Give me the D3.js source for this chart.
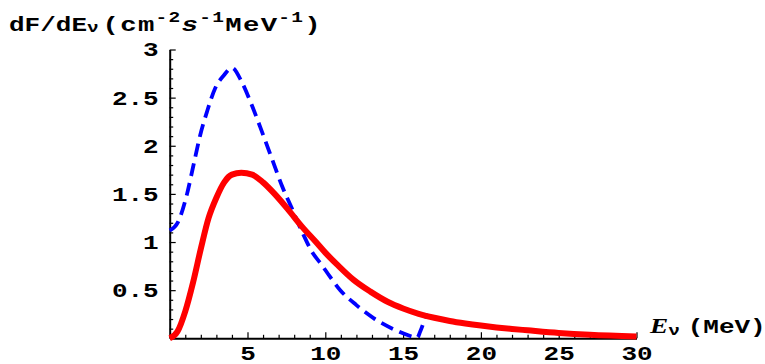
<!DOCTYPE html>
<html>
<head>
<meta charset="utf-8">
<script src="https://cdn.jsdelivr.net/npm/d3@7"></script>
<style>
  html, body { margin: 0; padding: 0; background: #fff; }
</style>
</head>
<body>
<div id="chart"></div>
<script>
// solid red spectrum
const redE = [0, 0.5, 1, 1.5, 2, 2.5, 3, 3.5, 4, 4.6, 5.3, 6, 6.8, 7.6, 8.5, 9.4, 10, 10.8, 11.8, 12.9, 14, 15, 16, 17, 18, 19, 20, 21, 22, 23, 25, 27, 30];
const redF = [0, 0.07, 0.28, 0.58, 0.93, 1.25, 1.46, 1.62, 1.70, 1.72, 1.70, 1.62, 1.49, 1.34, 1.16, 1.00, 0.89, 0.76, 0.61, 0.485, 0.38, 0.31, 0.255, 0.213, 0.18, 0.154, 0.132, 0.113, 0.097, 0.083, 0.056, 0.036, 0.018];

// dashed blue spectrum
const blueE = [0, 0.54, 1.1, 1.53, 1.96, 2.39, 2.93, 3.47, 4.0, 4.64, 5.28, 5.92, 6.56, 7.2, 7.85, 8.5, 9.14, 9.78, 10.3, 10.96, 12.0, 13.1, 14.4, 15.46, 15.9, 16.1, 16.5];
const blueF = [1.12, 1.21, 1.49, 1.80, 2.11, 2.35, 2.60, 2.73, 2.81, 2.66, 2.42, 2.15, 1.87, 1.59, 1.35, 1.11, 0.90, 0.76, 0.64, 0.50, 0.345, 0.21, 0.093, 0.024, 0.005, 0.07, 0.26];

const xMajor = [5, 10, 15, 20, 25, 30];
const xMinor = d3.range(1, 30).filter(v => v % 5 !== 0);
const yMajor = [0.5, 1, 1.5, 2, 2.5, 3];
const yMinor = d3.range(1, 30).map(v => v / 10).filter(v => Math.round(v * 10) % 5 !== 0);

const width = 765, height = 364;
const margin = { top: 49.5, right: 128.5, bottom: 25.7, left: 169.7 };
const mono = "'Liberation Mono', 'DejaVu Sans Mono', monospace";
const serif = "'Liberation Serif', 'DejaVu Serif', serif";
const sx = 1.3; // text in the picture is stretched sideways

const svg = d3.select('#chart').append('svg')
  .attr('width', width).attr('height', height);

const x = d3.scaleLinear().domain([0, 30]).range([margin.left, width - margin.right]);
const y = d3.scaleLinear().domain([0, 3]).range([height - margin.bottom, margin.top]);

// axes
const gx = svg.append('g').attr('transform', `translate(0,${y(0)})`)
  .call(d3.axisBottom(x).tickValues(xMajor).tickSize(-6).tickSizeOuter(0).tickPadding(8).tickFormat(d => d));
svg.append('g').attr('transform', `translate(0,${y(0)})`)
  .call(d3.axisBottom(x).tickValues(xMinor).tickSize(-3.5).tickFormat(''))
  .call(g => g.select('.domain').remove());

const gy = svg.append('g').attr('transform', `translate(${x(0)},0)`)
  .call(d3.axisLeft(y).tickValues(yMajor).tickSize(-6).tickSizeOuter(0).tickPadding(0).tickFormat(d => d));
svg.append('g').attr('transform', `translate(${x(0)},0)`)
  .call(d3.axisLeft(y).tickValues(yMinor).tickSize(-3.5).tickFormat(''))
  .call(g => g.select('.domain').remove());

svg.selectAll('.domain').attr('stroke', '#000').attr('stroke-width', 2);
svg.selectAll('.tick line').attr('stroke', '#000').attr('stroke-width', 1.2);
svg.selectAll('.tick text')
  .attr('font-family', mono).attr('font-weight', 'bold').attr('font-size', 20).attr('fill', '#000');
gx.selectAll('.tick text').attr('transform', `scale(${sx},1)`);
gy.selectAll('.tick text').attr('x', 0).attr('transform', `translate(-11,0) scale(${sx},1)`);

// curves
const line = d3.line().x(d => x(d[0])).y(d => y(d[1])).curve(d3.curveMonotoneX);

svg.append('path')
  .datum(d3.zip(blueE, blueF))
  .attr('d', line)
  .attr('fill', 'none')
  .attr('stroke', '#0000ff')
  .attr('stroke-width', 3.8)
  .attr('stroke-dasharray', '13,7');

svg.append('path')
  .datum(d3.zip(redE, redF))
  .attr('d', line)
  .attr('fill', 'none')
  .attr('stroke', '#ff0000')
  .attr('stroke-width', 6)
  .attr('stroke-linejoin', 'round');

// y title
const title = svg.append('text')
  .attr('transform', `translate(9,31) scale(${sx},1)`)
  .attr('font-family', mono).attr('font-weight', 'bold').attr('font-size', 20).attr('fill', '#000');
title.append('tspan').text('dF/dE');
title.append('tspan').attr('font-size', 15).attr('dy', 1).text('ν');
const unit = title.append('tspan').attr('dy', -1).attr('dx', 3).attr('letter-spacing', 1);
unit.append('tspan').attr('font-size', 21).text('(cm');
unit.append('tspan').attr('font-size', 15).attr('dy', -9).text('-2');
unit.append('tspan').attr('font-size', 21).attr('dy', 9).attr('font-style', 'italic').text('s');
unit.append('tspan').attr('font-size', 15).attr('dy', -9).text('-1');
unit.append('tspan').attr('font-size', 21).attr('dy', 9).text('MeV');
unit.append('tspan').attr('font-size', 15).attr('dy', -9).text('-1');
unit.append('tspan').attr('font-size', 21).attr('dy', 9).text(')');

// x title
const xt = svg.append('text')
  .attr('transform', `translate(650,333) scale(${sx},1)`)
  .attr('font-family', mono).attr('font-weight', 'bold').attr('font-size', 20).attr('fill', '#000');
xt.append('tspan').attr('font-family', serif).attr('font-style', 'italic').attr('font-size', 21).text('E');
xt.append('tspan').attr('font-size', 15).attr('dy', 2).text('ν');
xt.append('tspan').attr('dy', -2).attr('dx', 6).text('(MeV)');
</script>
</body>
</html>
